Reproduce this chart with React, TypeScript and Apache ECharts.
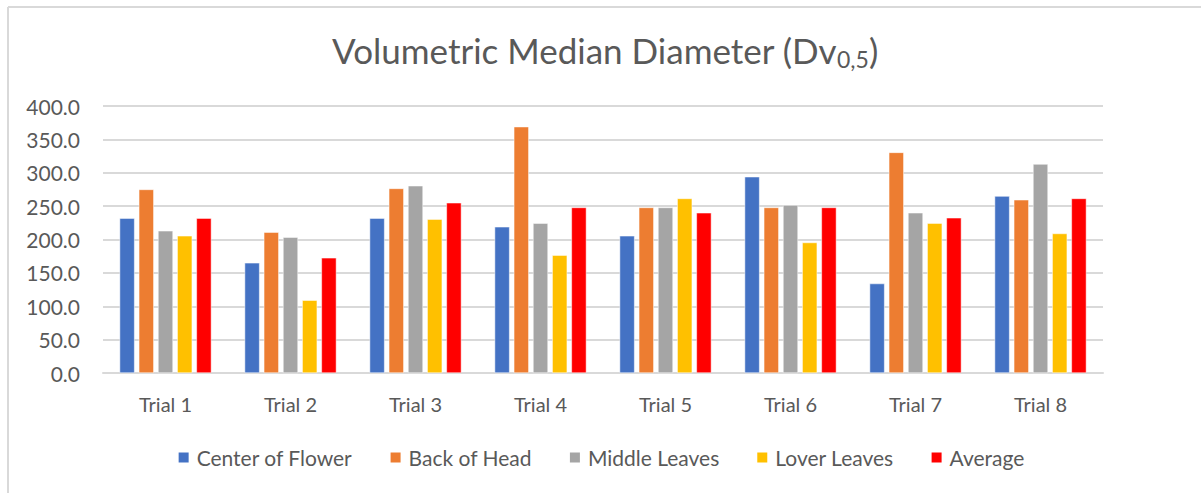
import React, { useEffect, useRef } from "react";
import * as echarts from "echarts";

const categories = ["Trial 1", "Trial 2", "Trial 3", "Trial 4", "Trial 5", "Trial 6", "Trial 7", "Trial 8"];
const centerOfFlower = [232, 165, 232, 219, 205.5, 294, 134, 265];
const backOfHead = [275, 211, 276.5, 369, 248, 248, 330.5, 259.5];
const middleLeaves = [213, 203.5, 280.5, 224.5, 248, 251.5, 240, 313];
const loverLeaves = [205.5, 109, 230.5, 176.5, 261.5, 195.5, 224.5, 209];
const average = [232, 172.5, 255, 248, 240, 248, 232.5, 261.5];
const seriesNames = ["Center of Flower", "Back of Head", "Middle Leaves", "Lover Leaves", "Average"];
const seriesColors = ["#4472C4", "#ED7D31", "#A5A5A5", "#FFC000", "#FF0000"];
const FONT = "Lato";

export default function App() {
  const ref = useRef<HTMLDivElement>(null);
  useEffect(() => {
    if (!ref.current) return;
    const chart = echarts.init(ref.current, null, { renderer: "svg" });
    const data = [centerOfFlower, backOfHead, middleLeaves, loverLeaves, average];
    chart.setOption({
      animation: false,
      backgroundColor: "#ffffff",
      title: {
        text: "{a|Volumetric Median Diameter (Dv}{b|0,5}{a|)}",
        left: 600,
        textAlign: "center",
        top: 24,
        textStyle: {
          rich: {
            a: { fontFamily: FONT, fontSize: 35, color: "#595959", fontWeight: "normal" },
            b: { fontFamily: FONT, fontSize: 23, color: "#595959", fontWeight: "normal", padding: [18, 0, 0, 0] },
          },
        },
      },
      legend: {
        bottom: 20,
        left: "center",
        itemWidth: 12,
        itemHeight: 12,
        itemGap: 36,
        icon: "rect",
        textStyle: { fontFamily: FONT, fontSize: 21, color: "#595959", padding: [0, 0, 0, 2] },
        data: seriesNames,
      },
      grid: { left: 103, right: 98, top: 106, bottom: 120, containLabel: false },
      xAxis: {
        type: "category",
        data: categories,
        axisLine: { lineStyle: { color: "#D9D9D9", width: 2 } },
        axisTick: { show: false },
        axisLabel: { fontFamily: FONT, fontSize: 20, color: "#595959", margin: 21 },
      },
      yAxis: {
        type: "value",
        min: 0,
        max: 400,
        interval: 50,
        axisLine: { show: false },
        axisTick: { show: false },
        splitLine: { lineStyle: { color: "#D9D9D9", width: 2 } },
        axisLabel: {
          fontFamily: FONT,
          fontSize: 21,
          color: "#595959",
          margin: 23,
          formatter: (v: number) => v.toFixed(1),
        },
      },
      graphic: [
        { type: "line", shape: { x1: 8, y1: 7, x2: 8, y2: 493 }, style: { stroke: "#D9D9D9", lineWidth: 2 } },
        { type: "line", shape: { x1: 8, y1: 7, x2: 1201, y2: 7 }, style: { stroke: "#D9D9D9", lineWidth: 2 } },
      ],
      series: seriesNames.map((name, i) => ({
        name,
        type: "bar",
        data: data[i],
        barWidth: 15,
        barGap: "28%",
        itemStyle: { color: seriesColors[i], borderColor: "#ffffff", borderWidth: 0.5 },
      })),
    });
    return () => chart.dispose();
  }, []);
  return <div ref={ref} style={{ position: "absolute", left: 0, top: 0, width: 1201, height: 493 }} />;
}
